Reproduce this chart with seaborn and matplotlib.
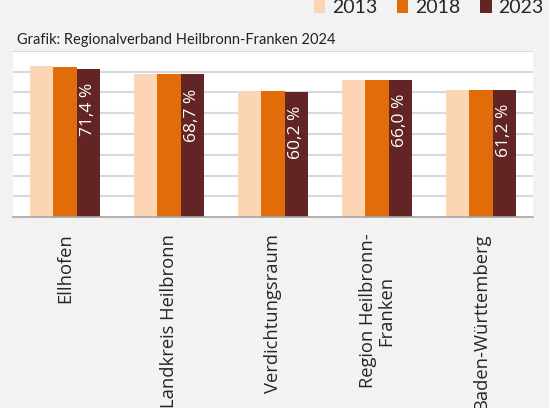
import numpy as np
import pandas as pd
import matplotlib.pyplot as plt
import seaborn as sns

# Anteil in % je Raumeinheit und Jahr
regionen = ["Ellhofen", "Landkreis Heilbronn", "Verdichtungsraum",
            "Region Heilbronn-\nFranken", "Baden-Württemberg"]
jahre = ["2013", "2018", "2023"]
werte_2013 = [72.8, 69.1, 60.5, 66.1, 61.2]
werte_2018 = [72.3, 69.0, 60.6, 66.2, 61.4]
werte_2023 = [71.4, 68.7, 60.2, 66.0, 61.2]
farben = ["#fcd5b5", "#e36c0a", "#632523"]

df = pd.DataFrame({
    "Region": regionen * 3,
    "Jahr": np.repeat(jahre, len(regionen)),
    "Wert": werte_2013 + werte_2018 + werte_2023,
})

sns.set_theme(style="white")
plt.rcParams["font.family"] = ["Open Sans", "DejaVu Sans"]

fig = plt.figure(figsize=(5.49, 4.08), dpi=100, facecolor="#f2f2f2")
ax = fig.add_axes([13 / 549, 1 - 217 / 408, 520 / 549, 166 / 408])
ax.set_facecolor("white")

sns.barplot(data=df, x="Region", y="Wert", hue="Jahr", palette=farben,
            width=0.665, saturation=1, linewidth=0, ax=ax)

# Werte in die 2023-Balken schreiben
for rect, v in zip(ax.containers[2], werte_2023):
    ax.annotate(f"{v:.1f} %".replace(".", ","),
                (rect.get_x() + rect.get_width() / 2, rect.get_height()),
                xytext=(0, -10), textcoords="offset points",
                rotation=90, ha="center", va="top", color="white", fontsize=12.5)

ax.set_ylim(0, 80)
ax.set_xlim(-0.5, len(regionen) - 0.5)
ax.set_yticks(np.arange(10, 81, 10))
ax.yaxis.grid(True, color="#d9d9d9", linewidth=1.5)
ax.set_axisbelow(True)
ax.tick_params(axis="y", left=False, labelleft=False)
for s in ["top", "left", "right"]:
    ax.spines[s].set_visible(False)
ax.spines["bottom"].set_color("#a6a6a6")
ax.spines["bottom"].set_linewidth(1.2)

ax.set_xticks(np.arange(len(regionen)))
ax.set_xticklabels(regionen, rotation=90, fontsize=13.2, va="top", ha="center",
                   linespacing=1.0)
ax.tick_params(axis="x", which="major", length=0, pad=12)
ax.set_xticks(np.arange(-0.5, len(regionen)), minor=True)
ax.tick_params(axis="x", which="minor", length=6, width=1.2, color="#a6a6a6")
ax.set_xlabel("")
ax.set_ylabel("")

handles, labels = ax.get_legend_handles_labels()
ax.get_legend().remove()
fig.legend(handles, labels, loc="upper right", bbox_to_anchor=(1.022, 1.045),
           ncol=3, frameon=False, prop={"family": "Lato", "size": 14},
           handlelength=0.6, handleheight=0.75, handletextpad=0.35,
           columnspacing=1.0)

fig.text(17 / 549, 1 - 40 / 408, "Grafik: Regionalverband Heilbronn-Franken 2024",
         fontsize=10.5, family="Lato", va="center", ha="left", color="#222222")

fig.savefig("out.png", dpi=100, facecolor=fig.get_facecolor())
